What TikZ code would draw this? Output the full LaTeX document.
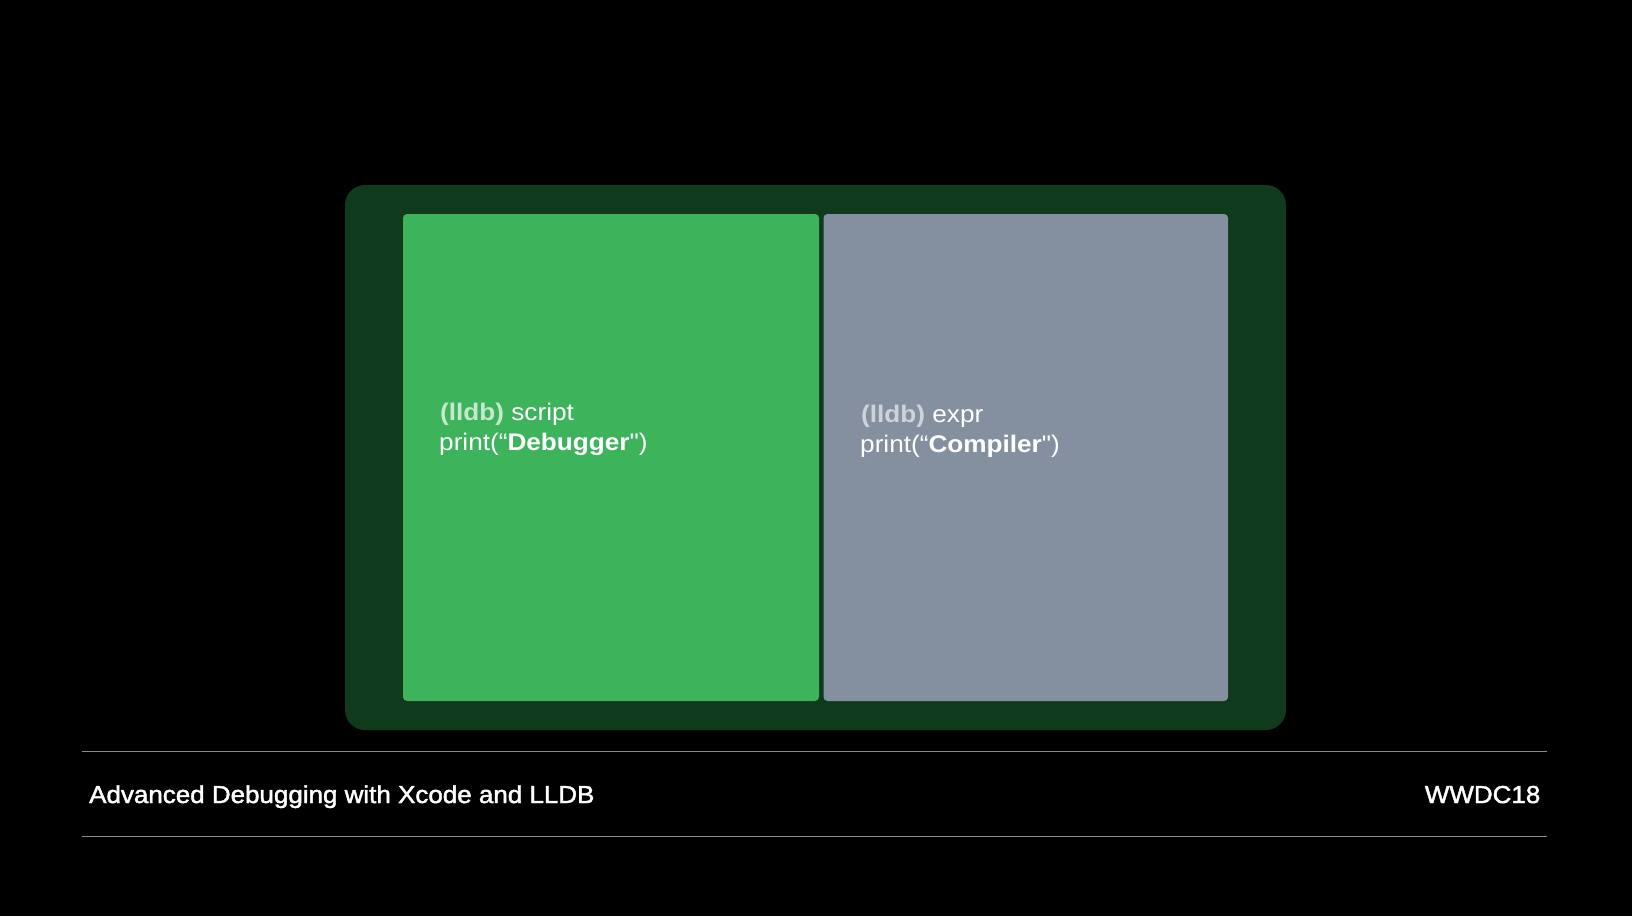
\documentclass[tikz,border=0pt]{standalone}
\usepackage{fontspec}
\setmainfont{Liberation Sans}
\newfontfamily\codefont{Liberation Sans}[FakeStretch=1.09]
\newfontfamily\footfont{Liberation Sans}[FakeStretch=1.06, FakeBold=1.8]
\definecolor{outerg}{HTML}{0F3A1B}
\definecolor{greenp}{HTML}{3DB35B}
\definecolor{greyp}{HTML}{8490A0}
\definecolor{rulec}{HTML}{8A8A8A}
\tikzset{
  panel/.style={inner sep=0pt, outer sep=0pt, rounded corners=4pt},
  codetxt/.style={anchor=base west, inner sep=0pt, text=white, font=\codefont\fontsize{24}{30}\selectfont},
  foottxt/.style={inner sep=0pt, text=white, font=\footfont\fontsize{24.5}{30}\selectfont},
  rulel/.style={draw=rulec, line width=1.8pt}
}
\begin{document}
\begin{tikzpicture}[x=1pt,y=-1pt]
\fill[black] (0,0) rectangle (1632,916);
\useasboundingbox (0,0) rectangle (1632,916);
\fill[outerg, rounded corners=20pt] (345,185) rectangle (1286,730);
\fill[greenp, panel] (403,214) rectangle (819,701);
\fill[greyp, panel] (823.5,214) rectangle (1228,701);
\node[codetxt] (g1) at (440,420) {\textcolor{white!70!greenp}{\textbf{(lldb)}} script};
\node[codetxt] (g2) at (439,450) {print(“\textbf{Debugger}\symbol{"22})};
\node[codetxt] (c1) at (861,422) {\textcolor{white!60!greyp}{\textbf{(lldb)}} expr};
\node[codetxt] (c2) at (860,452) {print(“\textbf{Compiler}\symbol{"22})};
\coordinate (la) at (82,751.5);
\coordinate (lb) at (1547,751.5);
\coordinate (lc) at (82,836.5);
\coordinate (ld) at (1547,836.5);
\draw[rulel] (la) -- (lb);
\draw[rulel] (lc) -- (ld);
\node[foottxt, anchor=base west] (title) at (89,803) {Advanced Debugging with Xcode and LLDB};
\node[foottxt, anchor=base east] (wwdc) at (1540.5,803) {WWDC18};
\end{tikzpicture}
\end{document}
